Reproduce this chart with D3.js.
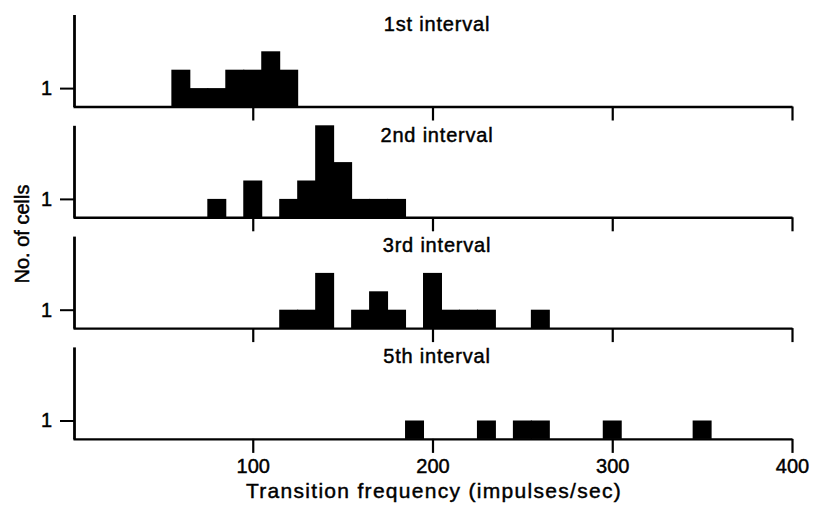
<html>
<head>
<title>Transition frequency histograms</title>
<script src="https://d3js.org/d3.v7.min.js"></script>
<style>
  body { margin: 0; background: #fff; }
  text { font-family: "Liberation Sans", Arial, Helvetica, sans-serif; fill: #000; }
</style>
</head>
<body>
<div id="chart"></div>
<script>

// bin centres (impulses/sec) and number of cells per bin, one pair per panel
var titles = ["1st interval", "2nd interval", "3rd interval", "5th interval"];

var bins1 = [60, 70, 80, 90, 100, 110, 120];
var counts1 = [2, 1, 1, 2, 2, 3, 2];

var bins2 = [80, 100, 120, 130, 140, 150, 160, 170, 180];
var counts2 = [1, 2, 1, 2, 5, 3, 1, 1, 1];

var bins3 = [120, 130, 140, 160, 170, 180, 200, 210, 220, 230, 260];
var counts3 = [1, 1, 3, 1, 2, 1, 3, 1, 1, 1, 1];

var bins5 = [190, 230, 250, 260, 300, 350];
var counts5 = [1, 1, 1, 1, 1, 1];

var xTicks = [100, 200, 300, 400];
var yTicks = [1];
var binWidth = 10;

var panels = [
  {title: titles[0], bins: bins1, counts: counts1},
  {title: titles[1], bins: bins2, counts: counts2},
  {title: titles[2], bins: bins3, counts: counts3},
  {title: titles[3], bins: bins5, counts: counts5}
];

var width = 816, height = 511;

var svg = d3.select("#chart").append("svg")
  .attr("width", width)
  .attr("height", height);

svg.append("rect")
  .attr("width", width)
  .attr("height", height)
  .attr("fill", "#fff");

var x = d3.scaleLinear()
  .domain([0, 400])
  .range([73, 792]);

// scanned look: give text a hairline stroke so it reads a bit heavier
function inky(sel) {
  sel.attr("stroke", "#000").attr("stroke-width", 0.45);
}

panels.forEach(function(p, i) {
  var base = 106.5 + i * 110.8;

  var y = d3.scaleLinear()
    .domain([0, 5])
    .range([base, base - 92]);

  var g = svg.append("g");

  var data = p.bins.map(function(b, j) { return {bin: b, count: p.counts[j]}; });

  g.selectAll("rect.bar")
    .data(data)
    .join("rect")
    .attr("class", "bar")
    .attr("x", function(d) { return x(d.bin - binWidth / 2) - 0.5; })
    .attr("width", x(binWidth) - x(0) + 1)
    .attr("y", function(d) { return y(d.count); })
    .attr("height", function(d) { return y(0) - y(d.count); })
    .attr("fill", "#000");

  // x axis: ticks pointing down, numbers only under the last panel
  var xAxis = d3.axisBottom(x)
    .tickValues(xTicks)
    .tickSize(14)
    .tickSizeOuter(0)
    .tickPadding(6)
    .tickFormat(i == panels.length - 1 ? d3.format("d") : function() { return ""; });

  var xg = g.append("g")
    .attr("transform", "translate(0," + base + ")")
    .call(xAxis);
  xg.select(".domain").attr("stroke-width", 2.4).attr("stroke", "#000");
  xg.selectAll(".tick line").attr("stroke-width", 2.2).attr("stroke", "#000");
  xg.selectAll(".tick text")
    .style("font-family", "Liberation Sans, Arial, sans-serif")
    .style("font-size", "20px")
    .attr("fill", "#000")
    .call(inky);

  var yAxis = d3.axisLeft(y)
    .tickValues(yTicks)
    .tickSize(14)
    .tickSizeOuter(0)
    .tickPadding(8)
    .tickFormat(d3.format("d"));

  var yg = g.append("g")
    .attr("transform", "translate(74,0)")
    .call(yAxis);
  yg.select(".domain").attr("stroke-width", 2.8).attr("stroke", "#000");
  yg.selectAll(".tick line").attr("stroke-width", 2).attr("stroke", "#000");
  yg.selectAll(".tick text")
    .style("font-family", "Liberation Sans, Arial, sans-serif")
    .style("font-size", "20px")
    .attr("fill", "#000")
    .call(inky);

  g.append("text")
    .attr("x", 437)
    .attr("y", base - 81)
    .attr("text-anchor", "middle")
    .attr("dominant-baseline", "middle")
    .style("font-size", "20px")
    .style("letter-spacing", "0.8px")
    .call(inky)
    .text(p.title);
});

svg.append("text")
  .attr("x", 434)
  .attr("y", 498)
  .attr("text-anchor", "middle")
  .style("font-size", "21px")
  .style("letter-spacing", "1.3px")
  .call(inky)
  .text("Transition frequency (impulses/sec)");

svg.append("text")
  .attr("transform", "translate(29,234) rotate(-90)")
  .attr("text-anchor", "middle")
  .style("font-size", "20px")
  .call(inky)
  .text("No. of cells");

</script>
</body>
</html>
